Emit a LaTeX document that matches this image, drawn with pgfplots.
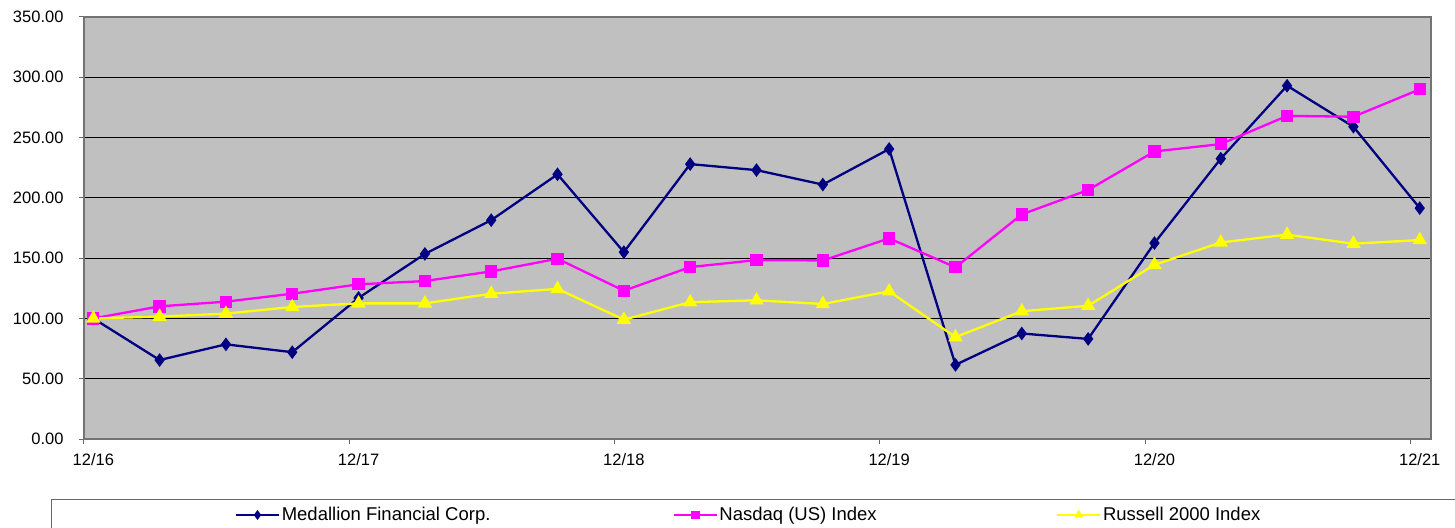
\documentclass[border=0pt]{standalone}
\usepackage{pgfplots}
\pgfplotsset{compat=1.18}
\usepackage{fontspec}
\setmainfont{Liberation Sans}
\definecolor{bgc}{RGB}{192,192,192}
\definecolor{navy}{RGB}{0,0,128}
\definecolor{mag}{RGB}{255,0,255}
\definecolor{yel}{RGB}{255,255,0}
\begin{document}
\begin{tikzpicture}
\useasboundingbox (-84pt,-88pt) rectangle (1371pt,439pt);
\begin{axis}[
  at={(0pt,0pt)}, anchor=south west,
  scale only axis, width=1347pt, height=422pt,
  xmin=-0.14, xmax=20.17, ymin=0, ymax=350,
  axis background/.style={fill=bgc},
  axis line style={draw=black!55, line width=1.4pt},
  ymajorgrids, major grid style={black, line width=0.8pt},
  ytick={0,50,...,350},
  xtick={-0.14,3.86,7.86,11.86,15.86,19.86},
  xticklabels={12/16,12/17,12/18,12/19,12/20,12/21},
  xticklabel style={xshift=9.3pt, yshift=-6pt},
  tick align=outside, xtick pos=bottom, ytick pos=left,
  major tick length=5pt,
  tick style={black!60, line width=1pt},
  every tick label/.append style={font=\fontsize{16.5}{19}\selectfont},
  yticklabel style={xshift=-12pt, /pgf/number format/.cd, fixed, fixed zerofill, precision=2, assume math mode=true},
  legend columns=3,
  legend style={at={(0,0)}, anchor=west, xshift=151pt, yshift=-76pt, draw=none, fill=none,
    inner sep=0pt, nodes={inner sep=0pt, font=\fontsize{18.5}{21}\selectfont}},
  legend image code/.code={\draw[mark repeat=2,mark phase=2] plot coordinates {(0pt,0pt) (21.5pt,0pt) (43pt,0pt)};},
  legend image post style={line width=1.6pt, mark size=3.6pt},
  clip=false,
]
\addplot[navy, line width=2.3pt, mark=diamond*, mark size=5pt, mark options={solid}] coordinates {
(0,100) (1,65.5) (2,78.5) (3,72) (4,117) (5,153.5) (6,181.5) (7,219.5) (8,155) (9,228) (10,223)
(11,211) (12,240.5) (13,61.5) (14,87.5) (15,83) (16,162.5) (17,232.5) (18,293) (19,259) (20,191.5)};
\addlegendentry{\hspace{2pt}\makebox[391pt][l]{Medallion Financial Corp.}}
\addplot[mag, line width=2.3pt, mark=square*, mark size=5pt] coordinates {
(0,100) (1,110) (2,113.9) (3,120.5) (4,128.3) (5,131) (6,139) (7,149.5) (8,123) (9,142.6) (10,148.4)
(11,148.1) (12,166.4) (13,142.4) (14,186.3) (15,206.5) (16,238.5) (17,244.6) (18,268) (19,267.3) (20,290)};
\addlegendentry{\hspace{2pt}\makebox[337pt][l]{Nasdaq (US) Index}}
\addplot[yel, line width=2.3pt, mark=triangle*, mark size=6pt] coordinates {
(0,100) (1,101.5) (2,104) (3,109.5) (4,112.5) (5,112.5) (6,120.5) (7,124.5) (8,99) (9,113.5) (10,115)
(11,112) (12,122.5) (13,84.5) (14,106) (15,110.5) (16,144.5) (17,163) (18,169.5) (19,162) (20,165)};
\addlegendentry{\hspace{2pt}\makebox[200pt][l]{Russell 2000 Index}}
\end{axis}
\draw[black!60, line width=1pt] (-32pt,-60pt) rectangle (1500pt,-140pt);
\end{tikzpicture}
\end{document}
